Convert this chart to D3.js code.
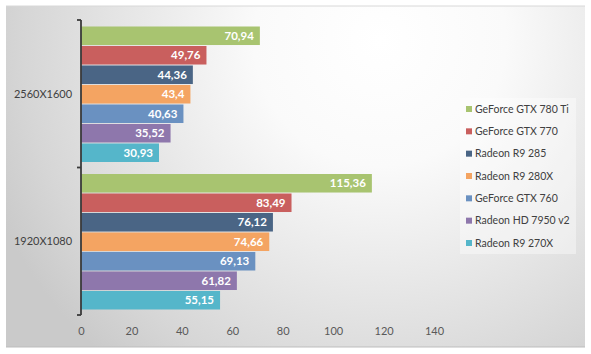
<!DOCTYPE html>
<html><head><meta charset="utf-8">
<script src="https://cdn.jsdelivr.net/npm/d3@7"></script>
<style>body{margin:0;background:#fff}svg{display:block}</style>
</head><body><svg id="c" width="591" height="354"></svg>
<script>
const categories = ["2560X1600", "1920X1080"];
const seriesNames = ["GeForce GTX 780 Ti","GeForce GTX 770","Radeon R9 285","Radeon R9 280X","GeForce GTX 760","Radeon HD 7950 v2","Radeon R9 270X"];
const values2560 = [70.94, 49.76, 44.36, 43.4, 40.63, 35.52, 30.93];
const values1920 = [115.36, 83.49, 76.12, 74.66, 69.13, 61.82, 55.15];
const xTicks = [0, 20, 40, 60, 80, 100, 120, 140];
const colors = ["#A8C470","#C95F5E","#4A6585","#F4A462","#6A91C1","#8E77AC","#55B6CA"];

const valuesByCat = [values2560, values1920];
const svg = d3.select("#c");
const font = "Lato, 'Open Sans', sans-serif";

// background
const defs = svg.append("defs");
const rg = defs.append("radialGradient").attr("id","bg").attr("gradientUnits","userSpaceOnUse")
  .attr("cx",380).attr("cy",40).attr("r",420).attr("fx",380).attr("fy",40);
rg.append("stop").attr("offset","0%").attr("stop-color","#ffffff");
rg.append("stop").attr("offset","30%").attr("stop-color","#fafafa");
rg.append("stop").attr("offset","85%").attr("stop-color","#d6d6d6");
rg.append("stop").attr("offset","100%").attr("stop-color","#cacaca");
svg.append("rect").attr("x",6).attr("y",6).attr("width",579).attr("height",341)
  .attr("fill","url(#bg)");
svg.append("line").attr("x1",6).attr("x2",585).attr("y1",347).attr("y2",347)
  .attr("stroke","#bdbdbd").attr("stroke-width",1);
svg.append("line").attr("x1",6).attr("x2",585).attr("y1",6).attr("y2",6)
  .attr("stroke","#d8d8d8").attr("stroke-width",1);

const x = d3.scaleLinear().domain([0,140]).range([81, 434]);
const yCat = d3.scaleBand().domain(categories).range([20, 315]).paddingInner(0).paddingOuter(0);
const ySer = d3.scaleBand().domain(seriesNames).range([6.5, yCat.bandwidth()-5.5]).paddingInner(0.05);

categories.forEach((cat, ci) => {
  const g = svg.append("g").attr("transform", `translate(0,${yCat(cat)})`);
  const vals = valuesByCat[ci];
  seriesNames.forEach((s, si) => {
    const v = vals[si];
    g.append("rect").attr("x", x(0)).attr("y", ySer(s))
      .attr("width", x(v)-x(0)).attr("height", ySer.bandwidth())
      .attr("fill", colors[si]);
    g.append("text").attr("x", x(v)-6).attr("y", ySer(s)+ySer.bandwidth()/2)
      .attr("dy","0.36em").attr("text-anchor","end")
      .attr("font-family", font).attr("font-weight","bold").attr("font-size","11.5px")
      .attr("fill","#fff").text(String(v).replace(".", ","));
  });
  svg.append("text").attr("x", 43).attr("y", yCat(cat)+yCat.bandwidth()/2)
    .attr("dy","0.36em").attr("text-anchor","middle")
    .attr("font-family", font).attr("font-size","11px").attr("fill","#404040").text(cat);
});

// y axis line and ticks
svg.append("line").attr("x1",81).attr("x2",81).attr("y1",20).attr("y2",315)
  .attr("stroke","#3a3a3a").attr("stroke-width",1.8);
[20, yCat(categories[1]), 315].forEach(t => {
  svg.append("line").attr("x1",77).attr("x2",81).attr("y1",t).attr("y2",t)
    .attr("stroke","#3a3a3a").attr("stroke-width",1.8);
});

// x tick labels
const xa = svg.append("g").attr("transform","translate(0,323)")
  .call(d3.axisBottom(x).tickValues(xTicks).tickSize(0).tickPadding(4));
xa.select(".domain").remove();
xa.selectAll("text").attr("font-family", font).attr("font-size","11px").attr("fill","#595959");

// legend
svg.append("rect").attr("x",460).attr("y",98).attr("width",116).attr("height",156)
  .attr("fill","#ffffff").attr("fill-opacity",0.4);
const ly = d3.scalePoint().domain(seriesNames).range([109, 243]);
seriesNames.forEach((s, si) => {
  svg.append("rect").attr("x",466).attr("y",ly(s)-3).attr("width",6).attr("height",6).attr("fill",colors[si]);
  svg.append("text").attr("x",475).attr("y",ly(s)).attr("dy","0.36em")
    .attr("font-family", font).attr("font-size","10.5px").attr("fill","#404040").text(s);
});
</script></body></html>
